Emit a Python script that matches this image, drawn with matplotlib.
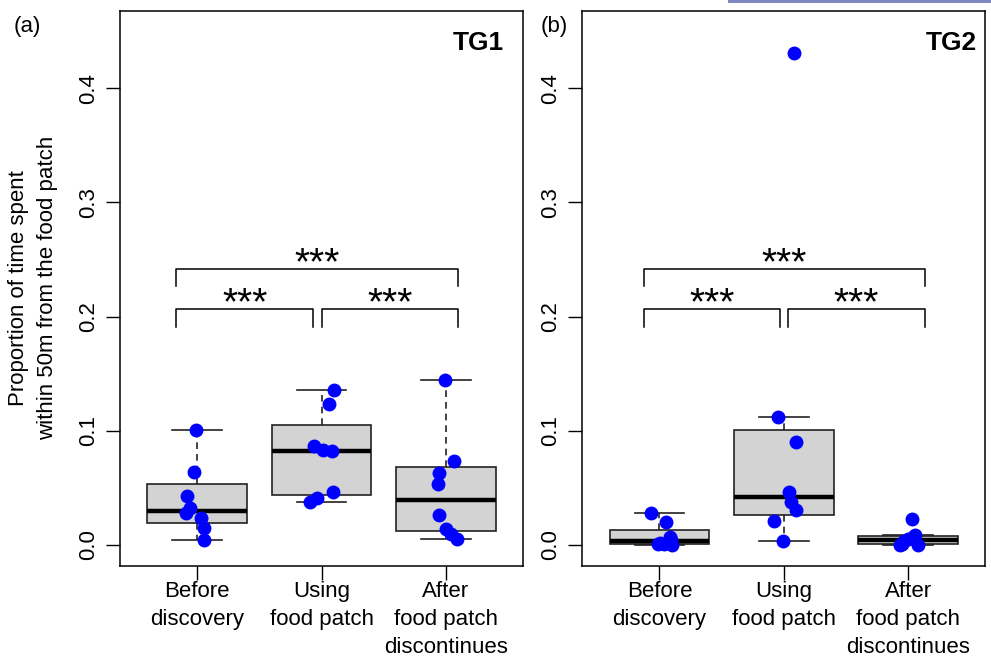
import matplotlib
matplotlib.use('Agg')
import matplotlib.pyplot as plt
from matplotlib.patches import Rectangle
import numpy as np

plt.rcParams['font.family'] = ['Liberation Sans', 'DejaVu Sans']

# ===============================
# data
# ===============================
groups = ["Before\ndiscovery", "Using\nfood patch", "After\nfood patch\ndiscontinues"]
y_ticks = [0.0, 0.1, 0.2, 0.3, 0.4]
y_ticklabels = ["0.0", "0.1", "0.2", "0.3", "0.4"]

# TG1 - proportion of time within 50m of the patch
tg1_before = [0.1005, 0.0636, 0.0431, 0.0321, 0.0280, 0.0236, 0.0149, 0.0046]
tg1_using = [0.1355, 0.1233, 0.0871, 0.0830, 0.0824, 0.0466, 0.0411, 0.0378]
tg1_after = [0.1448, 0.0732, 0.0629, 0.0531, 0.0265, 0.0142, 0.0096, 0.0050]

# TG2
tg2_before = [0.0280, 0.0198, 0.0072, 0.0044, 0.0020, 0.0008, 0.0004, 0.0]
tg2_using = [0.4310, 0.1122, 0.0898, 0.0463, 0.0373, 0.0306, 0.0212, 0.0032]
tg2_after = [0.0227, 0.0089, 0.0073, 0.0053, 0.0035, 0.0009, 0.0003, 0.0]

# horizontal jitter used for the points (same order as the values)
tg1_before_jit = [-0.010, -0.027, -0.085, -0.059, -0.091, 0.030, 0.056, 0.054]
tg1_using_jit = [0.097, 0.064, -0.060, 0.016, 0.083, 0.093, -0.040, -0.092]
tg1_after_jit = [-0.011, 0.064, -0.054, -0.064, -0.054, 0.0, 0.043, 0.089]
tg2_before_jit = [-0.067, 0.056, 0.088, 0.096, 0.002, -0.008, 0.035, 0.100]
tg2_using_jit = [0.083, -0.043, 0.096, 0.038, 0.059, 0.096, -0.075, -0.010]
tg2_after_jit = [0.027, 0.056, 0.040, 0.0, -0.032, -0.048, 0.080, -0.064]

sig_labels = ["***", "***", "***"]

FS = 16


def box_stats(vals):
    """Tukey hinges + 1.5 IQR whiskers (like R boxplot)"""
    x = np.sort(np.asarray(vals, dtype=float))
    n = len(x)
    n4 = np.floor((n + 3) / 2) / 2
    d = np.array([1, n4, (n + 1) / 2, n + 1 - n4, n]) - 1
    fn = 0.5 * (x[np.floor(d).astype(int)] + x[np.ceil(d).astype(int)])
    iqr = fn[3] - fn[1]
    lo = x[x >= fn[1] - 1.5 * iqr].min()
    hi = x[x <= fn[3] + 1.5 * iqr].max()
    return dict(med=fn[2], q1=fn[1], q3=fn[3], whislo=lo, whishi=hi, fliers=[])


def draw_panel(ax, data, jitter, tag, tag_dx, brackets):
    stats = [box_stats(v) for v in data]
    ax.bxp(stats, positions=[1, 2, 3], widths=0.8, capwidths=0.4,
           showfliers=False, patch_artist=True,
           boxprops=dict(facecolor='#D3D3D3', edgecolor='#222222', linewidth=1.2),
           medianprops=dict(color='black', linewidth=3.2, solid_capstyle='butt'),
           whiskerprops=dict(color='#222222', linewidth=1.2, linestyle=(0, (4, 3))),
           capprops=dict(color='#222222', linewidth=1.2))

    for i, (vals, jit) in enumerate(zip(data, jitter)):
        xs = [i + 1 + j for j in jit]
        ax.plot(xs, vals, 'o', color='blue', ms=9, mec='blue', zorder=5)

    # significance brackets
    for (x0, x1, y_hi, y_lo), lab in zip(brackets, sig_labels):
        ax.plot([x0, x0, x1, x1], [y_lo, y_hi, y_hi, y_lo], color='black', lw=1.1)
        ax.annotate(lab, xy=((x0 + x1) / 2, y_hi), xytext=(0, -4.4),
                    textcoords='offset points', ha='center', va='baseline',
                    fontsize=28)

    ax.set_xlim(0.38, 3.62)
    ax.set_ylim(-0.018, 0.468)
    ax.set_xticks([1, 2, 3])
    ax.set_xticklabels(groups, fontsize=FS, linespacing=1.45)
    ax.set_yticks(y_ticks)
    ax.set_yticklabels(y_ticklabels, fontsize=FS, rotation=90, va='center')
    ax.tick_params(direction='out', length=10, width=1, pad=1)
    ax.tick_params(axis='y', pad=5)
    for s in ax.spines.values():
        s.set_linewidth(1.1)

    ax.annotate(tag, xy=(1, 1), xycoords='axes fraction', xytext=(tag_dx, -28),
                textcoords='offset points', ha='right', va='baseline',
                fontsize=19, fontweight='bold')


fig = plt.figure(figsize=(9.91, 6.61), dpi=100, facecolor='white')
ax_a = fig.add_axes([120 / 991, 1 - 565.5 / 661, 403 / 991, 554.8 / 661])
ax_b = fig.add_axes([582.3 / 991, 1 - 565.5 / 661, 403 / 991, 554.8 / 661])

draw_panel(ax_a, [tg1_before, tg1_using, tg1_after],
           [tg1_before_jit, tg1_using_jit, tg1_after_jit], "TG1", -14,
           [(0.834, 3.097, 0.242, 0.227), (0.834, 1.934, 0.207, 0.191),
            (2.002, 3.097, 0.207, 0.191)])
draw_panel(ax_b, [tg2_before, tg2_using, tg2_after],
           [tg2_before_jit, tg2_using_jit, tg2_after_jit], "TG2", -6,
           [(0.874, 3.135, 0.242, 0.227), (0.874, 1.966, 0.207, 0.191),
            (2.033, 3.135, 0.207, 0.191)])

fig.text(33 / 991, 1 - 288 / 661,
         "Proportion of time spent\nwithin 50m from the food patch",
         rotation=90, ha='center', va='center', fontsize=FS, linespacing=1.45)
fig.text(14 / 991, 1 - 32 / 661, "(a)", fontsize=FS, va='baseline')
fig.text(541 / 991, 1 - 32 / 661, "(b)", fontsize=FS, va='baseline')

# thin strip along the top edge
fig.add_artist(Rectangle((728 / 991, 1 - 3 / 661), 263 / 991, 3 / 661,
                         transform=fig.transFigure, color='#7F86C0', lw=0))

fig.savefig('out.png', dpi=100, facecolor='white')
plt.close(fig)
